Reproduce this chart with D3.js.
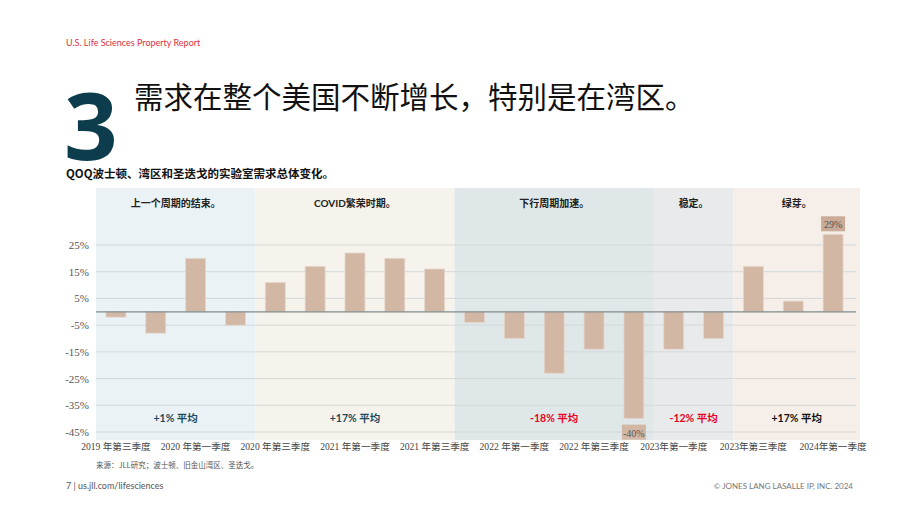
<!DOCTYPE html>
<html><head><meta charset="utf-8">
<script src="https://cdn.jsdelivr.net/npm/d3@7"></script>
<style>body{margin:0;background:#fff}svg{display:block}</style>
</head><body><div id="chart"></div>
<script>
const quarters = ["2019Q3","2019Q4","2020Q1","2020Q2","2020Q3","2020Q4","2021Q1","2021Q2","2021Q3","2021Q4","2022Q1","2022Q2","2022Q3","2022Q4","2023Q1","2023Q2","2023Q3","2023Q4","2024Q1"];
const values = [-2,-8,20,-5,11,17,22,20,16,-4,-10,-23,-14,-40,-14,-10,17,4,29];
const tickLabels = {"2019Q3":"2019 年第三季度","2020Q1":"2020 年第一季度","2020Q3":"2020 年第三季度","2021Q1":"2021 年第一季度","2021Q3":"2021 年第三季度","2022Q1":"2022 年第一季度","2022Q3":"2022 年第三季度","2023Q1":"2023年第一季度","2023Q3":"2023年第三季度","2024Q1":"2024年第一季度"};
const yTicks = [25,15,5,-5,-15,-25,-35,-45];
const phases = ["上一个周期的结束。","COVID繁荣时期。","下行周期加速。","稳定。","绿芽。"];
const phaseStart = [0,4,9,14,16];
const phaseEnd = [3,8,13,15,18];
const phaseAvg = ["+1% 平均","+17% 平均","-18% 平均","-12% 平均","+17% 平均"];
const phaseFill = ["#eaf2f5","#f6f3ec","#e0e7e9","#e8eaeb","#f6eee8"];
const avgColor = ["#1d4a5c","#1d4a5c","#e8001c","#e8001c","#111"];

const W = 920, H = 518;
const svg = d3.select("#chart").append("svg").attr("width", W).attr("height", H);
const sans = "Lato, 'Noto Sans CJK SC', sans-serif";
const serif = "'Liberation Serif', 'Noto Sans CJK SC', serif";

svg.append("text").attr("x",66).attr("y",46).attr("fill","#e0303a").style("font-size","9px").style("font-family",sans).text("U.S. Life Sciences Property Report");
svg.append("text").attr("x",64).attr("y",160).attr("fill","#0d3d4c").style("font-size","94px").style("font-weight","bold").style("font-family","'Open Sans', sans-serif").text("3");
svg.append("text").attr("x",134).attr("y",108).attr("fill","#111").style("font-size","29.5px").style("font-family","'Noto Sans CJK SC'").text("需求在整个美国不断增长，特别是在湾区。");
svg.append("text").attr("x",66).attr("y",178).attr("fill","#111").style("font-size","11.5px").style("font-weight","bold").style("font-family","'Noto Sans CJK SC'").text("QOQ波士顿、湾区和圣迭戈的实验室需求总体变化。");

const x = d3.scaleBand().domain(quarters).range([96,853]).paddingInner(0.5).paddingOuter(0.25);
const y = d3.scaleLinear().domain([-45,25]).range([432,245]);
const step = x.step();
const left = i => x(quarters[i]) - step*x.paddingInner()/2;

phases.forEach((p,i) => {
  const x0 = i===0 ? 96 : left(phaseStart[i]);
  const x1 = i===phases.length-1 ? 860 : left(phaseEnd[i]+1);
  svg.append("rect").attr("x",x0).attr("y",188).attr("width",x1-x0).attr("height",252).attr("fill",phaseFill[i]);
  svg.append("text").attr("x",(x0+x1)/2).attr("y",207).attr("text-anchor","middle").attr("fill","#222")
    .style("font-size","10px").style("font-weight","bold").style("font-family",sans).text(p);
  svg.append("text").attr("x",(x0+x1)/2).attr("y",422).attr("text-anchor","middle").attr("fill",avgColor[i])
    .style("font-size","10.5px").style("font-weight","bold").style("font-family",sans).text(phaseAvg[i]);
});

svg.append("g").selectAll("line").data(yTicks).join("line")
  .attr("x1",96).attr("x2",856).attr("y1",d=>y(d)).attr("y2",d=>y(d)).attr("stroke","#d3d8da").attr("stroke-width",1);
svg.append("g").selectAll("text").data(yTicks).join("text")
  .attr("x",89).attr("y",d=>y(d)+4).attr("text-anchor","end").attr("fill","#555")
  .style("font-size","11px").style("font-family",serif).text(d=>d+"%");

svg.append("g").selectAll("rect").data(values).join("rect")
  .attr("x",(d,i)=>x(quarters[i])).attr("width",x.bandwidth())
  .attr("y",d=>y(Math.max(0,d))).attr("height",d=>Math.abs(y(d)-y(0)))
  .attr("fill","#d2b7a5").attr("stroke","#e6d6ca").attr("stroke-width",0.8);
svg.append("line").attr("x1",96).attr("x2",856).attr("y1",y(0)).attr("y2",y(0)).attr("stroke","#7f8c8f").attr("stroke-width",1.3);

// value labels for extremes
[18,13].forEach(i => {
  const v = values[i], cx = x(quarters[i]) + x.bandwidth()/2;
  const ly = v>0 ? y(v)-10 : y(v)+14;
  svg.append("rect").attr("x",cx-12).attr("y",ly-8).attr("width",24).attr("height",15).attr("fill",v>0?"#c9ab98":"#d2b7a5");
  svg.append("text").attr("x",cx).attr("y",ly+4).attr("text-anchor","middle").attr("fill","#555")
    .style("font-size","10px").style("font-family",serif).text(v+"%");
});

svg.append("g").selectAll("text").data(quarters.filter(q=>tickLabels[q])).join("text")
  .attr("x",d=>x(d)+x.bandwidth()/2).attr("y",450).attr("text-anchor","middle").attr("fill","#444")
  .style("font-size","9.6px").style("font-family",serif).text(d=>tickLabels[d]);

svg.append("text").attr("x",96).attr("y",468).attr("fill","#555").style("font-size","7.5px").style("font-family","'Noto Sans CJK SC'").text("来源：JLL研究；波士顿、旧金山湾区、圣迭戈。");
svg.append("text").attr("x",66).attr("y",489).attr("fill","#555").style("font-size","9px").style("font-family",sans).text("7   | us.jll.com/lifesciences");
svg.append("text").attr("x",853).attr("y",489).attr("text-anchor","end").attr("fill","#777").style("font-size","8px").style("font-family",sans).text("© JONES LANG LASALLE IP, INC. 2024");
</script></body></html>
